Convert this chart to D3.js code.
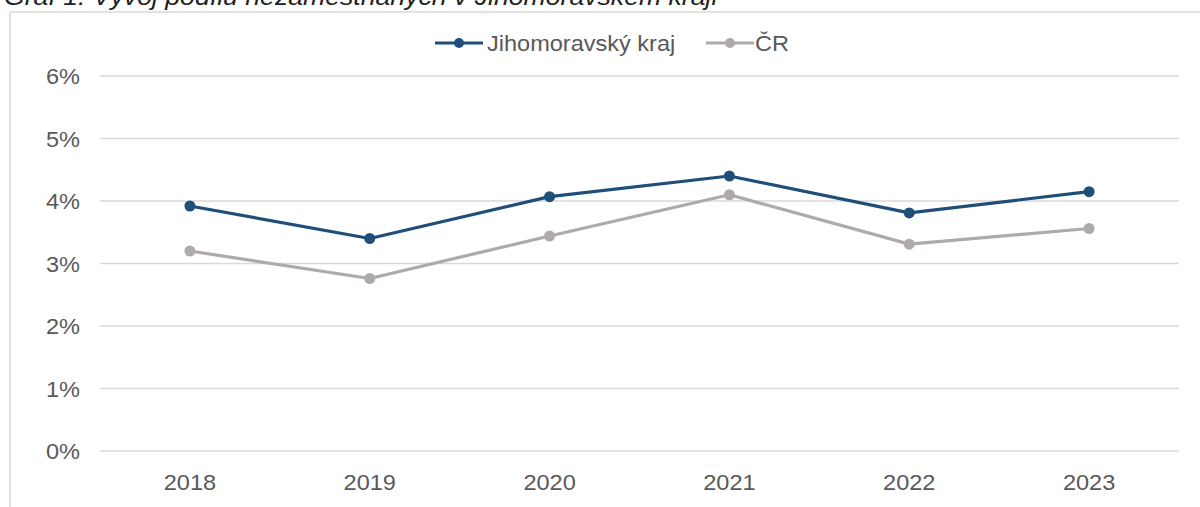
<!DOCTYPE html>
<html><head><meta charset="utf-8">
<script src="https://cdn.jsdelivr.net/npm/d3@7"></script>
<style>html,body{margin:0;padding:0;background:#fff;overflow:hidden}</style>
</head><body>
<svg id="c" width="1200" height="507"></svg>
<script>
const years = ["2018","2019","2020","2021","2022","2023"];
const jmk = [3.92, 3.40, 4.07, 4.40, 3.81, 4.15];
const cr = [3.20, 2.76, 3.44, 4.10, 3.31, 3.56];
const yTicks = [0,1,2,3,4,5,6];
const seriesNames = ["Jihomoravský kraj","ČR"];
const colors = ["#1F4E79","#AEAAAA"];
const title = "Graf 1: Vývoj podílu nezaměstnaných v Jihomoravském kraji";

const svg = d3.select("#c");
const font = "'Liberation Sans', Arial, sans-serif";
const SX = 1.07;

function place(sel, fx, fy){
  return sel.attr("transform",(d,i)=>`translate(${fx(d,i)},${fy(d,i)}) scale(${SX},1)`);
}

svg.append("text").attr("transform","translate(4,5) scale(1.11,1)")
  .attr("font-family",font).attr("font-style","italic").attr("font-size",24)
  .attr("fill","#222").text(title);

svg.append("rect").attr("x",10).attr("y",12).attr("width",1400).attr("height",700)
  .attr("fill","none").attr("stroke","#d9d9d9").attr("stroke-width",1.5);

const x = d3.scaleBand().domain(years).range([100,1179]);
const y = d3.scaleLinear().domain([0,6]).range([451,76]);

const g = svg.append("g");
g.selectAll("line.grid").data(yTicks).join("line")
  .attr("x1",100).attr("x2",1179).attr("y1",d=>y(d)).attr("y2",d=>y(d))
  .attr("stroke","#d9d9d9").attr("stroke-width",1.5);

place(g.selectAll("text.yl").data(yTicks).join("text"), ()=>80, d=>y(d)+8)
  .attr("text-anchor","end")
  .attr("font-family",font).attr("font-size",22).attr("fill","#595959")
  .text(d=>d+"%");

place(g.selectAll("text.xl").data(years).join("text"), d=>x(d)+x.bandwidth()/2, ()=>490)
  .attr("text-anchor","middle")
  .attr("font-family",font).attr("font-size",22).attr("fill","#595959")
  .text(d=>d);

const line = d3.line().x((d,i)=>x(years[i])+x.bandwidth()/2).y(d=>y(d));
[cr, jmk].forEach((s,k)=>{
  const c = k===0 ? colors[1] : colors[0];
  g.append("path").datum(s).attr("d",line).attr("fill","none")
    .attr("stroke",c).attr("stroke-width",3.2).attr("stroke-linejoin","round");
  g.selectAll(null).data(s).join("circle")
    .attr("cx",(d,i)=>x(years[i])+x.bandwidth()/2).attr("cy",d=>y(d)).attr("r",5.5).attr("fill",c);
});

// legend
const leg = svg.append("g");
const items = [{n:seriesNames[0],c:colors[0],x0:435,tx:487},{n:seriesNames[1],c:colors[1],x0:706,tx:755}];
items.forEach(it=>{
  leg.append("line").attr("x1",it.x0).attr("x2",it.x0+48).attr("y1",43).attr("y2",43)
    .attr("stroke",it.c).attr("stroke-width",3.2);
  leg.append("circle").attr("cx",it.x0+24).attr("cy",43).attr("r",5).attr("fill",it.c);
  leg.append("text").attr("transform",`translate(${it.tx},51) scale(${SX},1)`)
    .attr("font-family",font).attr("font-size",22)
    .attr("fill","#595959").text(it.n);
});
</script>
</body></html>
